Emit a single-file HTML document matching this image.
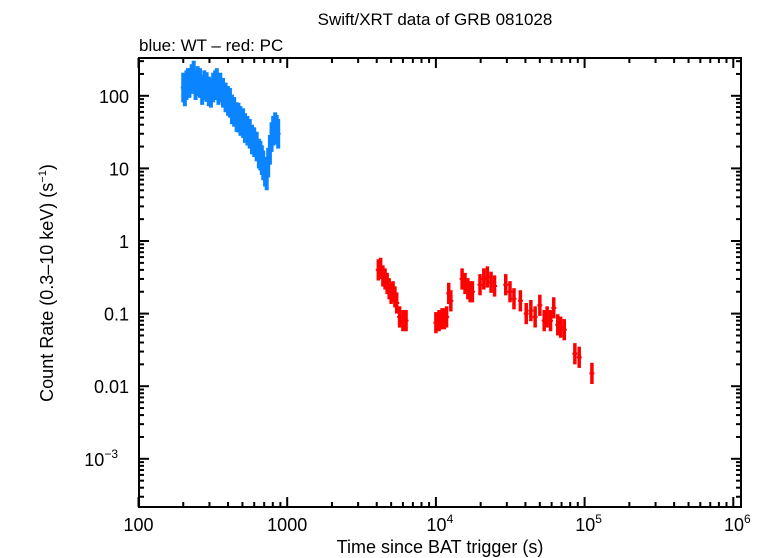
<!DOCTYPE html>
<html><head><meta charset="utf-8"><style>
body{margin:0;background:#fff;}
svg{display:block;font-family:"Liberation Sans",Arial,sans-serif;}
</style></head><body>
<svg id="chart" width="759" height="558" viewBox="0 0 759 558">
<text x="435" y="25" font-size="17" text-anchor="middle">Swift/XRT data of GRB 081028</text>
<text x="139" y="51" font-size="17">blue: WT – red: PC</text>
<text x="440" y="553" font-size="18" text-anchor="middle">Time since BAT trigger (s)</text>
<text transform="translate(53,283) rotate(-90)" font-size="18" text-anchor="middle">Count Rate (0.3–10 keV) (s<tspan font-size="11" dy="-7">−1</tspan><tspan dy="7">)</tspan></text>
<g id="axes"></g>
<g id="wt"></g>
<g id="pc"></g>
<rect x="139" y="58" width="602" height="449" fill="none" stroke="#000" stroke-width="2"/>
</svg>
<script>
const wtTimes=[200,205,210,215,220,228,235,242,250,259,268,277,287,297,307,318,328,336,345,355,370,385,400,412,425,440,457,470,485,505,520,540,560,580,600,623,645,660,675,690,710,728,745,765,785,805,830,850,870];
const wtRates=[130,115,140,150,150,170,190,140,160,150,120,140,132,115,110,130,140,150,120,130,110,95,85,80,65,60,51,50,45,42,36,33,30,25,23,20,16,15,13,11,9,8,12,18,27,33,37,34,30];
const pcTimes=[4100,4250,4400,4550,4700,4850,5000,5150,5300,5450,5700,6000,6300,10000,10500,11000,11400,11800,12200,12600,15000,15700,16400,17000,17600,19800,21000,22200,23500,24800,29500,31500,33500,37000,40500,43500,46500,50000,53500,56000,59000,62000,66000,69000,73000,86000,92000,112000];
const pcRates=[0.40,0.42,0.33,0.30,0.26,0.22,0.19,0.20,0.17,0.14,0.09,0.08,0.08,0.075,0.08,0.085,0.085,0.09,0.19,0.15,0.30,0.26,0.22,0.20,0.20,0.25,0.30,0.32,0.27,0.24,0.25,0.20,0.16,0.15,0.10,0.11,0.09,0.13,0.08,0.09,0.08,0.12,0.07,0.065,0.06,0.028,0.025,0.015];
const xTickVals=[100,1000,10000,100000,1000000];
const xTickLabels=["100","1000","10^4","10^5","10^6"];
const yTickVals=[100,10,1,0.1,0.01,0.001];
const yTickLabels=["100","10","1","0.1","0.01","10^−3"];

const L=139,R=741,T=58,B=507;
function xs(t){return 138.5+148.7*(Math.log10(t)-2);}
function ys(v){return 241-72.6*Math.log10(v);}
const NS="http://www.w3.org/2000/svg";
function mk(tag,attrs,parent){const e=document.createElementNS(NS,tag);for(const k in attrs)e.setAttribute(k,attrs[k]);parent.appendChild(e);return e;}
const ax=document.getElementById('axes');
for(let d=2;d<=6;d++){for(let m=1;m<10;m++){const v=m*Math.pow(10,d);const x=xs(v);if(x>R)continue;const len=m===1?10:5;
const t1=mk('line',{x1:x,x2:x,y1:B,y2:B-len,stroke:'#000','stroke-width':2},ax);


const t2=mk('line',{x1:x,x2:x,y1:T,y2:T+len,stroke:'#000','stroke-width':2},ax);

}}
for(let d=-4;d<=2;d++){for(let m=1;m<10;m++){const v=m*Math.pow(10,d);const y=ys(v);if(y<T||y>B)continue;const len=m===1?10:5;
const t1=mk('line',{x1:L,x2:L+len,y1:y,y2:y,stroke:'#000','stroke-width':2},ax);


const t2=mk('line',{x1:R,x2:R-len,y1:y,y2:y,stroke:'#000','stroke-width':2},ax);

}}
function label(txt,x,y,anchor,parent){const t=mk('text',{x:x,y:y,'font-size':18,'text-anchor':anchor},parent);
const p=txt.split('^');t.appendChild(document.createTextNode(p[0]));
if(p[1]){const s=mk('tspan',{'font-size':12,dy:-8},t);s.textContent=p[1];}return t;}
xTickVals.forEach((v,i)=>{const t=label(xTickLabels[i],xs(v)+(xTickLabels[i].includes('^')?4:0),531,'middle',ax);

});
yTickVals.forEach((v,i)=>{const lab=yTickLabels[i];const t=label(lab,lab.includes('^')?118:129,ys(v)+7,'end',ax);

});
function series(times,rates,color,g,name,errF,xw,sw){
times.forEach((t,i)=>{const x=xs(t),y=ys(rates[i]);
const e=mk('line',{x1:x,x2:x,y1:ys(rates[i]*errF),y2:ys(rates[i]/errF),stroke:color,'stroke-width':sw},g);


const h=mk('line',{x1:x-xw,x2:x+xw,y1:y,y2:y,stroke:color,'stroke-width':2},g);

});}
series(wtTimes,wtRates,'#0a84ff',document.getElementById('wt'),'wt',1.6,2.5,4);
series(pcTimes,pcRates,'#ff0000',document.getElementById('pc'),'pc',1.4,2.5,3.5);
</script>
</body></html>
